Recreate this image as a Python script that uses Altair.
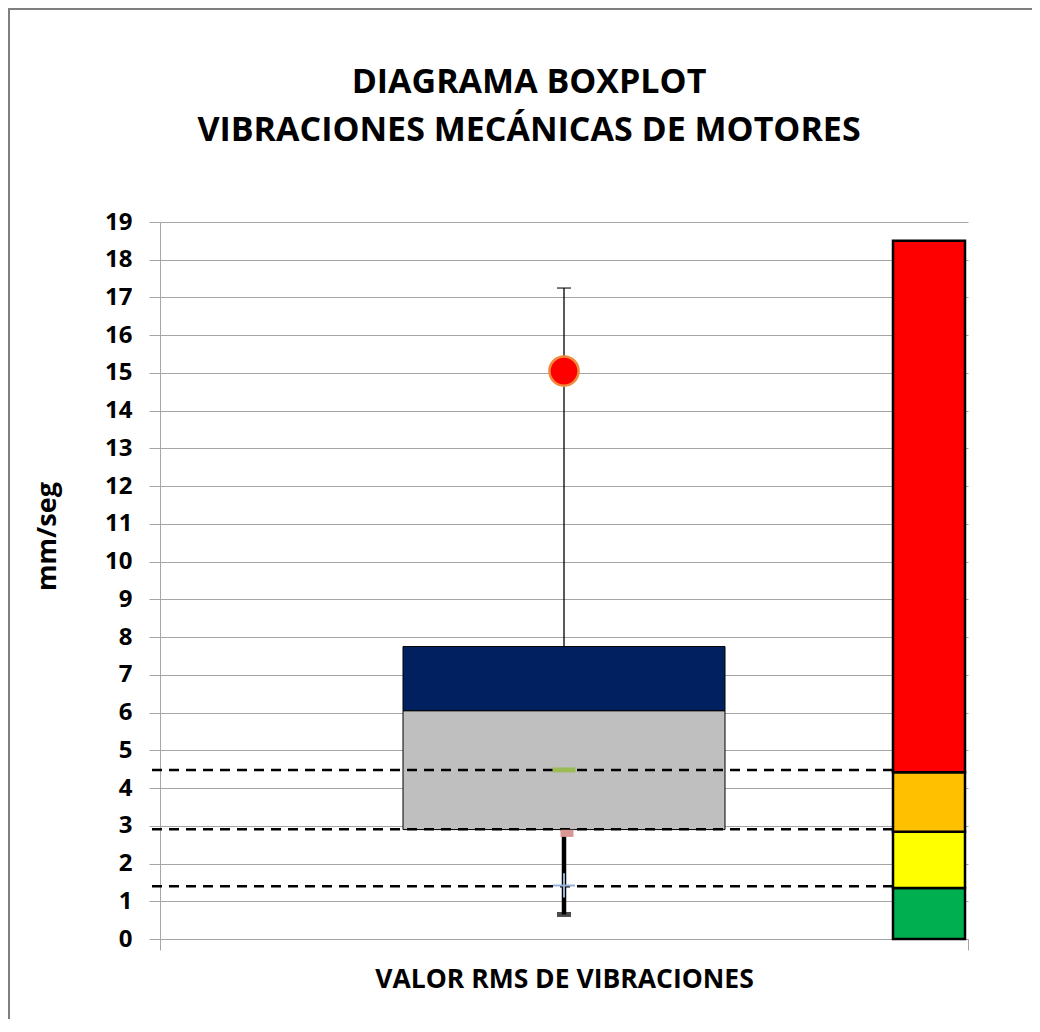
import altair as alt
import pandas as pd

# ---------------- data ----------------
titulo = ["DIAGRAMA BOXPLOT", "VIBRACIONES MECÁNICAS DE MOTORES"]
categoria = ["VALOR RMS DE VIBRACIONES"]

caja_tramos = ["Q1 a mediana", "Mediana a Q3"]
caja_inicio = [2.9, 6.05]
caja_fin = [6.05, 7.75]
caja_colores = ["#bfbfbf", "#002060"]

bigote_min = 0.65
bigote_max = 17.25
valor_destacado = 15.05

marcador_verde = 4.48
marcador_rosa = 2.80
marcador_azul = 1.42

umbrales = [4.48, 2.91, 1.40]

zonas = ["Bueno", "Satisfactorio", "Insatisfactorio", "Inaceptable"]
zona_inicio = [0.0, 1.35, 2.84, 4.42]
zona_fin = [1.35, 2.84, 4.42, 18.5]
zona_colores = ["#00b050", "#ffff00", "#ffc000", "#ff0000"]

y_ticks = list(range(0, 20))

FONT = "Open Sans"
GRIS = "#a6a6a6"

# ---------------- tables ----------------
cat = categoria[0]
df_caja = pd.DataFrame({"cat": cat, "tramo": caja_tramos, "ini": caja_inicio, "fin": caja_fin})
df_zonas = pd.DataFrame({"cat": cat, "zona": zonas, "ini": zona_inicio, "fin": zona_fin})
df_sup = pd.DataFrame({"cat": [cat], "ini": [caja_fin[-1]], "fin": [bigote_max]})
df_inf = pd.DataFrame({"cat": [cat], "ini": [bigote_min], "fin": [caja_inicio[0]]})
df_cap_sup = pd.DataFrame({"cat": [cat], "v": [bigote_max]})
df_cap_inf = pd.DataFrame({"cat": [cat], "v": [bigote_min]})
df_dest = pd.DataFrame({"cat": [cat], "v": [valor_destacado]})
df_verde = pd.DataFrame({"cat": [cat], "v": [marcador_verde]})
df_rosa = pd.DataFrame({"cat": [cat], "v": [marcador_rosa]})
df_azul = pd.DataFrame({"cat": [cat], "v": [marcador_azul]})
df_umb = pd.DataFrame({"v": umbrales})
df_one = pd.DataFrame({"k": [0]})

# ---------------- scales / axes ----------------
yscale = alt.Scale(domain=[0, 19], nice=False, zero=True)
yaxis = alt.Axis(
    title="mm/seg", values=y_ticks, format="d",
    grid=True, gridColor=GRIS, gridWidth=1,
    domainColor=GRIS, tickColor=GRIS, tickSize=11,
    labelFont=FONT, labelFontSize=24, labelFontWeight="bold", labelColor="black",
    labelPadding=17,
    titleFont=FONT, titleFontSize=27, titleFontWeight="bold", titleColor="black",
    titleX=-105, titleY=314, titleAngle=270, titleBaseline="alphabetic", titleAlign="center",
)
xscale = alt.Scale(domain=categoria, paddingInner=0, paddingOuter=0)
xaxis = alt.Axis(
    title=None, tickBand="extent", labelAngle=0, grid=False,
    labelFont=FONT, labelFontSize=26.5, labelFontWeight="bold", labelColor="black",
    labelPadding=16, labelLimit=1000,
    tickSize=11, tickColor=GRIS, domainColor=GRIS,
)


def X():
    return alt.X("cat:N", scale=xscale, axis=xaxis)


def Y(field):
    return alt.Y(field, type="quantitative", scale=yscale, axis=yaxis)


# ---------------- layers ----------------
frame = alt.Chart(df_one).mark_rect(
    fillOpacity=0, stroke="#7f7f7f", strokeWidth=2
).encode(
    x=alt.value(-151), x2=alt.value(1000), y=alt.value(-213), y2=alt.value(1000)
)

titulo1 = alt.Chart(df_one).mark_text(
    font=FONT, fontSize=34, fontWeight="bold", color="black",
    align="center", baseline="alphabetic"
).encode(text=alt.value(titulo[0]), x=alt.value(369), y=alt.value(-129))

titulo2 = alt.Chart(df_one).mark_text(
    font=FONT, fontSize=34, fontWeight="bold", color="black",
    align="center", baseline="alphabetic"
).encode(text=alt.value(titulo[1]), x=alt.value(369), y=alt.value(-81))

zonas_bar = alt.Chart(df_zonas).mark_bar(
    size=72, xOffset=365, stroke="black", strokeWidth=2.5
).encode(
    x=X(), y=Y("ini"), y2="fin",
    color=alt.Color("zona:N", scale=alt.Scale(domain=zonas, range=zona_colores), legend=None),
)

caja = alt.Chart(df_caja).mark_bar(
    size=322, stroke="black", strokeWidth=1
).encode(
    x=X(), y=Y("ini"), y2="fin",
    fill=alt.Fill("tramo:N", scale=alt.Scale(domain=caja_tramos, range=caja_colores), legend=None),
)

bigote_sup = alt.Chart(df_sup).mark_rule(color="black", strokeWidth=1.3).encode(
    x=X(), y=Y("ini"), y2="fin"
)
cap_sup = alt.Chart(df_cap_sup).mark_tick(color="black", size=14, thickness=1.5).encode(
    x=X(), y=Y("v")
)
bigote_inf = alt.Chart(df_inf).mark_rule(color="black", strokeWidth=4.5).encode(
    x=X(), y=Y("ini"), y2="fin"
)
cap_inf = alt.Chart(df_cap_inf).mark_tick(color="black", size=14, thickness=5).encode(
    x=X(), y=Y("v")
)

umbral_rules = alt.Chart(df_umb).mark_rule(
    color="black", strokeWidth=2.5, strokeDash=[10, 7]
).encode(
    y=Y("v"), x=alt.value(-8), x2=alt.value(733)
)

destacado = alt.Chart(df_dest).mark_point(
    filled=True, fill="#ff0000", stroke="#ee8a3a", strokeWidth=2.5, size=850, opacity=1
).encode(x=X(), y=Y("v"))

verde = alt.Chart(df_verde).mark_point(
    shape="M-1,-0.22H1V0.22H-1Z", filled=True, color="#9bbb59", size=529, opacity=1
).encode(x=X(), y=Y("v"))

rosa = alt.Chart(df_rosa).mark_point(
    shape="M-1,-0.55H1V0.55H-1Z", filled=True, color="#d99694", size=169, opacity=1, xOffset=3
).encode(x=X(), y=Y("v"))

azul = alt.Chart(df_azul).mark_point(
    shape="M-1,0H1M0,-1.1V1.1", filled=False, color="#95b3d7", strokeWidth=2, size=484, opacity=1
).encode(x=X(), y=Y("v"))

chart = alt.layer(
    frame, titulo1, titulo2, zonas_bar, caja, bigote_sup, cap_sup, bigote_inf, cap_inf,
    umbral_rules, verde, rosa, azul, destacado,
).properties(
    width=808, height=717,
    autosize="none",
    padding={"left": 152, "top": 214, "right": 64, "bottom": 80},
    background="white",
).configure(font=FONT).configure_view(stroke="transparent")

chart.save("out.html", embed_options={"renderer": "svg", "actions": False})
